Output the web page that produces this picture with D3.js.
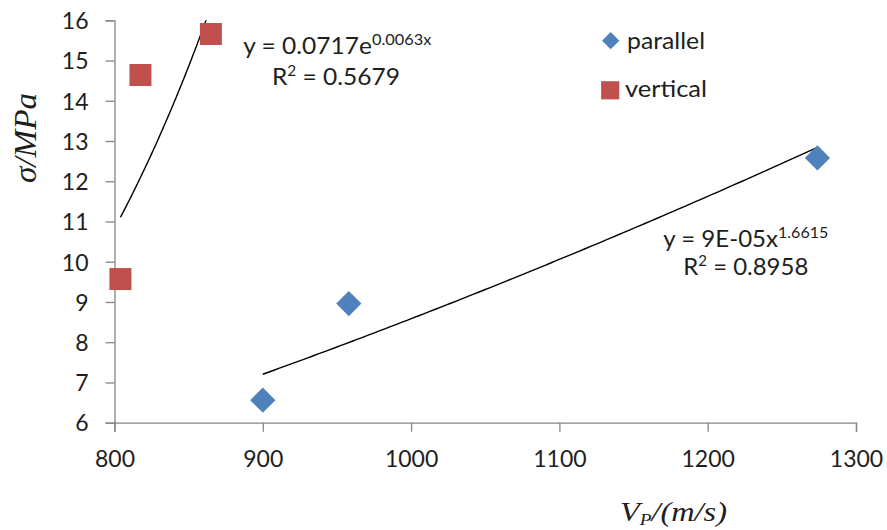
<!DOCTYPE html>
<html><head><meta charset="utf-8">
<script src="https://cdn.jsdelivr.net/npm/d3@7"></script>
<style>
html,body{margin:0;padding:0;background:#fff;}
svg{display:block;}
</style></head>
<body>
<svg id="chart" width="887" height="530"></svg>
<script>
// ---- data ----
const parallelX = [900, 958, 1274];
const parallelY = [6.56, 8.96, 12.58];
const verticalX = [804, 817.5, 865];
const verticalY = [9.57, 14.64, 15.66];
const xTicks = [800, 900, 1000, 1100, 1200, 1300];
const yTicks = [6, 7, 8, 9, 10, 11, 12, 13, 14, 15, 16];
const legendLabels = ["parallel", "vertical"];
const eqVertical = {base: "y = 0.0717e", sup: "0.0063x", r2: "0.5679"};
const eqParallel = {base: "y = 9E-05x", sup: "1.6615", r2: "0.8958"};

const blue = "#4F81BD", red = "#C0504D", axisCol = "#868686", textCol = "#1e1e1e";

const svg = d3.select("#chart");
const x = d3.scaleLinear().domain([800, 1300]).range([114.5, 856]);
const y = d3.scaleLinear().domain([6, 16]).range([422.7, 20.3]);

// clip
svg.append("defs").append("clipPath").attr("id", "plot")
  .append("rect").attr("x", x(800)).attr("y", y(16))
  .attr("width", x(1300) - x(800)).attr("height", y(6) - y(16));

// axes
const xAxis = svg.append("g").attr("transform", `translate(0,${y(6)})`)
  .call(d3.axisBottom(x).tickValues(xTicks).tickSize(9).tickPadding(19).tickFormat(d3.format("d")));
const yAxis = svg.append("g").attr("transform", `translate(${x(800)},0)`)
  .call(d3.axisLeft(y).tickValues(yTicks).tickSize(9).tickPadding(17).tickFormat(d3.format("d")));
[xAxis, yAxis].forEach(g => {
  g.select(".domain").attr("stroke", axisCol).attr("stroke-width", 1.3);
  g.selectAll(".tick line").attr("stroke", axisCol).attr("stroke-width", 1.3);
  g.selectAll(".tick text").attr("fill", textCol).style("font-family", "Lato, 'Open Sans', sans-serif").style("font-size", "23px");
});
yAxis.selectAll(".tick text").attr("dy", "0.36em");
xAxis.selectAll(".tick text").attr("dy", "0.71em");

// trend lines (least-squares fits of the plotted data)
function fitExp(xs, ys) {
  const ly = ys.map(Math.log);
  const mx = d3.mean(xs), my = d3.mean(ly);
  let sxy = 0, sxx = 0;
  xs.forEach((v, i) => { sxy += (v - mx) * (ly[i] - my); sxx += (v - mx) ** 2; });
  const b = sxy / sxx, a = Math.exp(my - b * mx);
  return v => a * Math.exp(b * v);
}
function fitPow(xs, ys) {
  const lx = xs.map(Math.log), ly = ys.map(Math.log);
  const mx = d3.mean(lx), my = d3.mean(ly);
  let sxy = 0, sxx = 0;
  lx.forEach((v, i) => { sxy += (v - mx) * (ly[i] - my); sxx += (v - mx) ** 2; });
  const b = sxy / sxx, a = Math.exp(my - b * mx);
  return v => a * Math.pow(v, b);
}
const line = d3.line().x(d => x(d[0])).y(d => y(d[1]));
function trend(xs, f) {
  const [lo, hi] = d3.extent(xs);
  const pts = d3.range(0, 101).map(i => { const v = lo + (hi - lo) * i / 100; return [v, f(v)]; });
  svg.append("path").attr("d", line(pts)).attr("fill", "none")
    .attr("stroke", "#000").attr("stroke-width", 1.4).attr("clip-path", "url(#plot)");
}
trend(verticalX, fitExp(verticalX, verticalY));
trend(parallelX, fitPow(parallelX, parallelY));

// markers
const diamond = d3.symbol().type(d3.symbolSquare).size(318)();
const square = d3.symbol().type(d3.symbolSquare).size(484)();
svg.append("g").selectAll("path").data(parallelX.map((v, i) => [v, parallelY[i]]))
  .join("path").attr("d", diamond).attr("fill", blue)
  .attr("transform", d => `translate(${x(d[0])},${y(d[1])}) rotate(45)`);
svg.append("g").selectAll("path").data(verticalX.map((v, i) => [v, verticalY[i]]))
  .join("path").attr("d", square).attr("fill", red)
  .attr("transform", d => `translate(${x(d[0])},${y(d[1])})`);

// legend
const lg = svg.append("g").style("font-family", "Lato, 'Open Sans', sans-serif").style("font-size", "23px").attr("fill", textCol);
lg.append("path").attr("d", d3.symbol().type(d3.symbolSquare).size(150)()).attr("fill", blue)
  .attr("transform", "translate(610.7,40.7) rotate(45)");
lg.append("text").attr("x", 627).attr("y", 48.5).attr("textLength", 78).attr("lengthAdjust", "spacingAndGlyphs").text(legendLabels[0]);
lg.append("path").attr("d", d3.symbol().type(d3.symbolSquare).size(330)()).attr("fill", red)
  .attr("transform", "translate(610.2,90.3)");
lg.append("text").attr("x", 625).attr("y", 97).attr("textLength", 82).attr("lengthAdjust", "spacingAndGlyphs").text(legendLabels[1]);

// equations
function eq(e, x0, y0, w0, x1, y1, w1) {
  const g = svg.append("g").style("font-family", "Lato, 'Open Sans', sans-serif").attr("fill", textCol);
  const t = g.append("text").attr("x", x0).attr("y", y0).style("font-size", "24px")
    .attr("textLength", w0).attr("lengthAdjust", "spacingAndGlyphs");
  t.append("tspan").text(e.base);
  t.append("tspan").attr("dy", -9).style("font-size", "16px").text(e.sup);
  const r = g.append("text").attr("x", x1).attr("y", y1).style("font-size", "24px")
    .attr("textLength", w1).attr("lengthAdjust", "spacingAndGlyphs");
  r.append("tspan").text("R");
  r.append("tspan").attr("dy", -9).style("font-size", "15px").text("2");
  r.append("tspan").attr("dy", 9).text(" = " + e.r2);
}
eq(eqVertical, 243.3, 53.5, 188, 272, 85, 128);
eq(eqParallel, 663.3, 246.7, 165, 683.3, 275, 125);

// axis titles
svg.append("text").attr("transform", "translate(36,138) rotate(-90)")
  .attr("text-anchor", "middle").attr("fill", textCol)
  .style("font-family", "'Liberation Serif', 'DejaVu Serif', serif").style("font-style", "italic").style("font-size", "31px")
  .attr("textLength", 90).attr("lengthAdjust", "spacingAndGlyphs").text("σ/MPa");
const xt = svg.append("text").attr("x", 620).attr("y", 521).attr("fill", textCol)
  .style("font-family", "'Liberation Serif', 'DejaVu Serif', serif").style("font-style", "italic").style("font-size", "27px")
  .attr("textLength", 107).attr("lengthAdjust", "spacingAndGlyphs");
xt.append("tspan").text("V");
xt.append("tspan").attr("dy", 4).style("font-size", "16px").text("P");
xt.append("tspan").attr("dy", -4).text("/(m/s)");
</script>
</body></html>
